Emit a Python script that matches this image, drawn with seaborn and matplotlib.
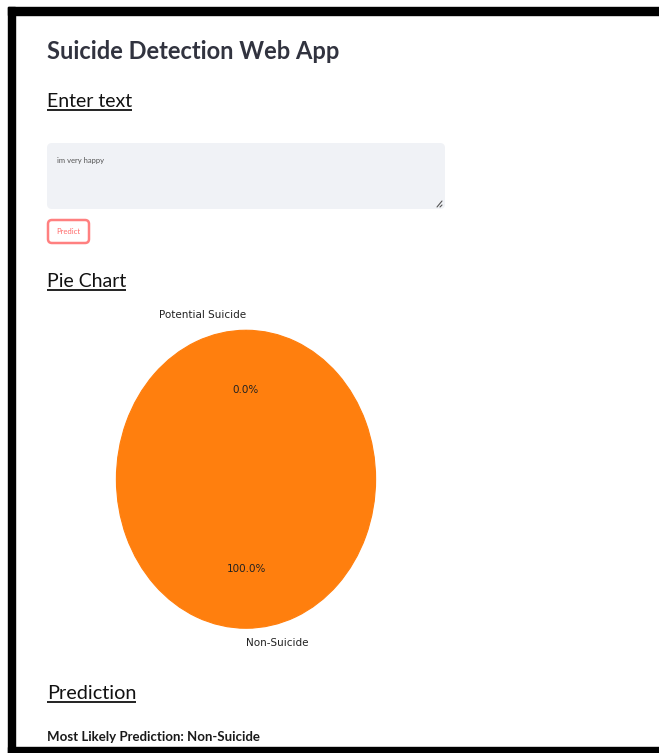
import matplotlib.pyplot as plt
import matplotlib.patches as mpatches
import seaborn as sns

# values shown on the page
labels = ['Potential Suicide', 'Non-Suicide']
probs = [0.0004, 0.9996]
title = 'Suicide Detection Web App'
input_text = 'im very happy'
prediction = 'Non-Suicide'

sns.set_style('white')
plt.rcParams['font.family'] = ['Lato', 'DejaVu Sans']

W, H = 659, 753
fig = plt.figure(figsize=(W / 100, H / 100), dpi=100)
page = fig.add_axes([0, 0, 1, 1])
page.set_xlim(0, W)
page.set_ylim(H, 0)
page.axis('off')

# black screenshot frame
page.add_patch(mpatches.Rectangle((8, 7), W - 8, 8, color='black'))
page.add_patch(mpatches.Rectangle((8, 7), 7, H - 7, color='black'))
page.add_patch(mpatches.Rectangle((8, 747), W - 8, 6, color='black'))

dark = '#31333F'
page.text(47, 59, title, fontsize=17, fontweight='bold', color=dark, va='baseline')

heads = []
heads.append(page.text(47, 107, 'Enter text', fontsize=14, color='#111111', va='baseline'))
heads.append(page.text(47, 287, 'Pie Chart', fontsize=14, color='#111111', va='baseline'))
heads.append(page.text(47, 699, 'Prediction', fontsize=14.3, color='#111111', va='baseline'))

# text area
page.add_patch(mpatches.FancyBboxPatch((47, 143), 398, 66, boxstyle='round,pad=0,rounding_size=5',
                                       fc='#F0F2F6', ec='none'))
page.text(57, 160, input_text, fontsize=5.5, color='#555555', va='center')
page.plot([437, 442], [207, 201], color='#555555', lw=0.8)
page.plot([440, 442], [207, 205], color='#555555', lw=0.8)

# predict button
page.add_patch(mpatches.FancyBboxPatch((48, 220), 41, 23, boxstyle='round,pad=0,rounding_size=4',
                                       fc='white', ec='#FF8080', lw=1.8))
page.text(68.5, 231.5, 'Predict', fontsize=5.5, color='#FF6B6B', ha='center', va='center')

page.text(47, 741, 'Most Likely Prediction: ' + prediction, fontsize=9.5, fontweight='bold',
          color='#1a1a1a', va='baseline')

# underline the headings
fig.canvas.draw()
rend = fig.canvas.get_renderer()
inv = page.transData.inverted()
for t in heads:
    bb = t.get_window_extent(rend)
    (x0, y0), (x1, y1) = inv.transform([[bb.x0, bb.y0], [bb.x1, bb.y1]])
    yb = t.get_position()[1] + 2.5
    page.plot([x0, x1], [yb, yb], color='#111111', lw=1.3, solid_capstyle='butt')

# pie chart
ax = fig.add_axes([84 / W, 1 - (293 + 372.5) / H, 324 / W, 372.5 / H])
wedges, _, _ = ax.pie(probs, labels=labels, autopct='%1.1f%%', startangle=90,
                      colors=sns.color_palette('tab10')[:2],
                      wedgeprops={'linewidth': 0, 'edgecolor': 'none'},
                      textprops={'fontsize': 7.5, 'color': '#222222', 'family': 'DejaVu Sans'})
# hide the anti-aliasing seam of the empty slice
big = wedges[1]
big.set_edgecolor(big.get_facecolor())
big.set_linewidth(0.8)
ax.set_aspect('auto')
ax.set_xlim(-1.25, 1.25)
ax.set_ylim(-1.25, 1.25)

fig.savefig('out.png', dpi=100)
